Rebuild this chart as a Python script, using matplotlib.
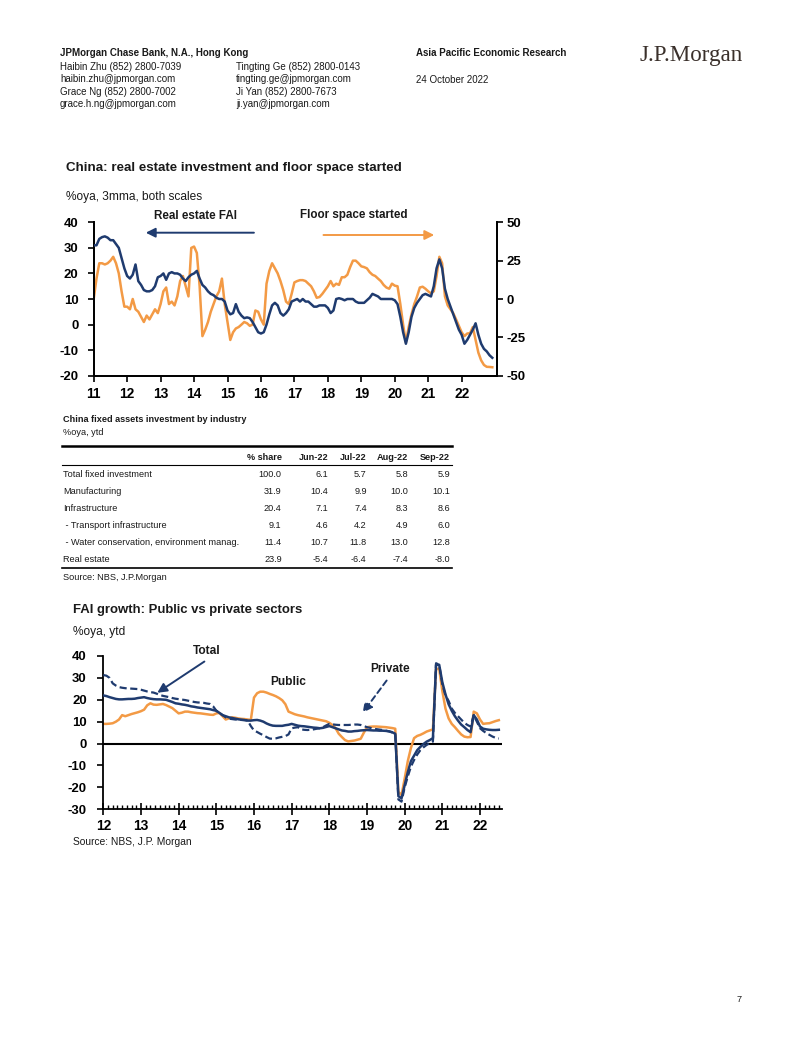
import matplotlib
matplotlib.use("Agg")
import matplotlib.pyplot as plt
from matplotlib import font_manager as fm
from matplotlib.ticker import MultipleLocator
import numpy as np

# ---------------- data ----------------
# Chart 1: monthly, from Jan 2011 (3mma, %oya)
fai_real_estate = [31,31,33.5,34.2,34.5,34,33,33,31.5,30,26,22,
    19,18,19.5,23.5,17,15.5,13.5,13,13,13.5,15,18.5,
    19,20,17.5,20,20.5,20,20,19.5,18,17,18.5,19.5,
    20,21,18,15.5,14.5,13,12,11.5,10.5,10,10,9,
    5.5,4,4.5,8,5,3.5,2.5,2.8,2.5,1,-1,-3,
    -3.5,-3,0,4,7.5,8.5,7.5,4.5,3.5,4.5,6,9,
    9.5,10,9,10,9,9,8,7,7,7.5,7.5,7.5,
    6.5,4.5,5.5,10,10.3,10,9.5,10,10,10,9,8.5,
    8.5,8.5,9.5,10.5,12,11.5,11,10,10,10,10,10,
    9.5,8,3,-3,-7.5,-3,3,6.5,8.5,10,11.5,12,
    11.5,11,15,22,25.5,22,14,10,7,4,1,-2,
    -4,-7.5,-6,-4,-2,0.5,-4,-7.5,-9.5,-10.5,-12,-13]
floor_space_started = [0,13.3,23.3,23.3,22.5,23.3,25,27.5,23.3,16.7,5,-5,
    -5,-6.7,0,-6.7,-8.3,-11.7,-15,-10.8,-13.3,-10,-6.7,-9.2,
    -3.3,5,7.5,-3.3,-1.7,-4.2,1.7,11.7,15,8.3,1.7,33.3,
    34.2,30,8.3,-24.2,-20,-15,-8.3,-3.3,1.7,5,13.3,-3.3,
    -15,-26.7,-21.7,-19.2,-18.3,-16.7,-15,-15.8,-17.5,-16.7,-7.5,-8.3,
    -13.3,-16.7,10,18.3,23.3,20,16.7,11.7,5.8,-1.7,-3.3,3.3,
    10.8,11.7,12.3,12.3,11.7,10,8.3,5,0.8,1.3,3.3,5.8,
    8.3,11.7,8.3,10,9.2,14.2,14.2,15.8,20.8,25,25,23.3,
    21.3,20.8,20,17.5,15.8,15,13.3,11.7,9.2,7.5,6.7,10,
    8.7,8.3,-3.3,-16.7,-28.3,-18.3,-10,-3.3,1.7,7.5,8,6.7,
    5,3.7,5,15,27.5,23.3,1.7,-4.2,-6.7,-9.3,-13.3,-17.5,
    -21.7,-24.2,-22.5,-22.3,-18.3,-26.7,-35,-40,-43,-44.2,-44.3,-44.5]
chart1_start_year = 2011
chart1_years = list(range(2011, 2023))
chart1_left_ticks = [40, 30, 20, 10, 0, -10, -20]
chart1_right_ticks = [50, 25, 0, -25, -50]

# Table
table_columns = ["% share", "Jun-22", "Jul-22", "Aug-22", "Sep-22"]
table_rows = ["Total fixed investment", "Manufacturing", "Infrastructure",
              " - Transport infrastructure",
              " - Water conservation, environment manag.", "Real estate"]
table_values = [
    ["100.0", "6.1", "5.7", "5.8", "5.9"],
    ["31.9", "10.4", "9.9", "10.0", "10.1"],
    ["20.4", "7.1", "7.4", "8.3", "8.6"],
    ["9.1", "4.6", "4.2", "4.9", "6.0"],
    ["11.4", "10.7", "11.8", "13.0", "12.8"],
    ["23.9", "-5.4", "-6.4", "-7.4", "-8.0"],
]

# Chart 2: monthly from Jan 2012 (%oya, ytd)
fai_total = [22,21.7,21.2,20.8,20.4,20.2,20.2,20.3,20.4,20.4,20.5,20.8,
    21,21.2,20.8,20.5,20.3,20.2,20.2,20.1,20,19.5,19,18.4,
    18.2,17.9,17.7,17.4,17,16.8,16.5,16.3,16.1,15.9,15.7,15.3,
    15,14,13,12.5,12,11.7,11.4,11.1,10.9,10.7,10.5,10.5,
    10.7,10.8,10.5,10,9.2,8.6,8.2,8.1,8.1,8.1,8.4,8.6,
    9,8.6,8.2,8,7.9,7.7,7.5,7.3,7.2,7,7.2,7.6,
    8,7.5,7,6.5,6,5.8,5.5,5.5,5.7,5.8,6,6.1,
    6.2,6.1,6,6,5.9,5.9,5.8,5.6,5.2,4.5,-24,-25,
    -19,-13,-8,-5.5,-3,-1.5,-0.2,0.9,1.6,2.5,36,36,
    28,22.5,18,15,12.5,10.5,8.7,7.5,6.2,5.2,13,11,
    7.8,6.8,6.5,6.3,6.2,6.2,6.3]
fai_private = [31.3,31,30,27.5,26.5,25.8,25.5,25.3,25.2,25.1,25,24.9,
    24.6,24.2,23.8,23.5,23.3,22.8,22.2,21.8,21.5,21.2,20.8,20.5,
    20.3,20.1,19.9,19.6,19.3,19,18.8,18.7,18.6,18.3,18.1,17,
    15,14,13,12,11.4,11.2,11,10.9,10.8,10.8,10.5,8,
    6,5.3,4.5,3.8,3,2.3,2.2,2.4,2.8,3.1,3.4,4.2,
    7,7.3,7.5,6.5,6.3,6.2,6.3,6.5,6.8,7,7.5,8.3,
    9,8.8,8.6,8.5,8.5,8.5,8.5,8.6,8.7,8.7,8.5,8,
    7.5,7.2,6.8,6.6,6.4,6.2,5.9,5.6,5.1,4.4,-25.5,-26.5,
    -20,-15,-10.5,-7.5,-5,-3,-1.7,-0.6,0.2,0.9,36.7,36,
    27,22,19.5,16,14,12.5,11,9.5,8.5,7.8,13,10,
    7,5.8,4.8,4,3.2,2.6,2.3]
fai_public = [9,9,9.1,9.3,10,11,13,12.5,13,13.5,13.9,14.3,
    14.8,15.5,17.5,18.4,17.8,17.7,17.9,18.1,17.6,16.9,16.2,15,
    13.8,14.1,14.6,14.6,14.3,14.1,13.9,13.8,13.6,13.4,13.2,13.1,
    13.8,14,12.5,11,11.5,12,11.8,11.5,11.3,11.2,11,10.8,
    21,23,23.7,23.7,23.3,22.7,22.2,21.6,20.8,19.8,18,14.6,
    14,13.4,13,12.7,12.4,12,11.7,11.4,11.1,10.8,10.5,10.2,
    9.5,8.5,7,4.5,3,1.6,1,1.2,1.4,1.8,2.2,5,
    7.5,7.7,7.8,7.8,7.7,7.6,7.5,7.3,7.1,6.8,-22,-23.5,
    -16,-8,-2,2.5,3.5,4,4.7,5.5,6,6.5,34,34.2,
    24,16,11.5,9,7.5,5.8,4.2,3.2,2.9,3,14.6,13.8,
    11,9,9.2,9.3,9.8,10.3,10.7]
chart2_start_year = 2012
chart2_years = list(range(2012, 2023))
chart2_yticks = [40, 30, 20, 10, 0, -10, -20, -30]

# ---------------- style ----------------
NAVY = "#1f3b6f"
ORANGE = "#f39a45"
TEXT = "#1a1a1a"
LOGO = "#3a302b"

avail = {f.name for f in fm.fontManager.ttflist}
if "Liberation Sans Narrow" in avail:
    SANS = ["Liberation Sans Narrow", "Liberation Sans", "DejaVu Sans"]
    K = 1.0
else:
    SANS = ["Liberation Sans", "DejaVu Sans"]
    K = 0.86
plt.rcParams["font.family"] = SANS
plt.rcParams["axes.unicode_minus"] = False

W, H = 802, 1037
fig = plt.figure(figsize=(W / 100, H / 100), dpi=100)
fig.patch.set_facecolor("white")

def fx(x):
    return x / W

def fy(y):
    return 1 - y / H

def txt(x, y, s, size, bold=False, ha="left", color=TEXT, **kw):
    fig.text(fx(x), fy(y), s, fontsize=size * K, fontweight="bold" if bold else "normal",
             ha=ha, va="center", color=color, **kw)

# ---------------- header ----------------
txt(60, 53, "JPMorgan Chase Bank, N.A., Hong Kong", 8.2, bold=True)
txt(60, 67, "Haibin Zhu (852) 2800-7039", 8.2)
txt(60, 79, "haibin.zhu@jpmorgan.com", 8.2)
txt(60, 92, "Grace Ng (852) 2800-7002", 8.2)
txt(60, 104, "grace.h.ng@jpmorgan.com", 8.2)
txt(236, 67, "Tingting Ge (852) 2800-0143", 8.2)
txt(236, 79, "tingting.ge@jpmorgan.com", 8.2)
txt(236, 92, "Ji Yan (852) 2800-7673", 8.2)
txt(236, 104, "ji.yan@jpmorgan.com", 8.2)
txt(416, 53, "Asia Pacific Economic Research", 8.2, bold=True)
txt(416, 80, "24 October 2022", 8.2)
fig.text(fx(640), fy(55), "J.P.Morgan", fontsize=16.6, family=["Liberation Serif", "DejaVu Serif"],
         color=LOGO, ha="left", va="center")

# ---------------- chart 1 ----------------
txt(66, 168, "China: real estate investment and floor space started", 11.2, bold=True)
txt(66, 197, "%oya, 3mma, both scales", 10)

L1, R1, T1, B1 = 93.7, 497, 222.3, 375.7
ax1 = fig.add_axes([fx(L1), fy(B1), (R1 - L1) / W, (B1 - T1) / H])
x1 = chart1_start_year + np.arange(len(fai_real_estate)) / 12.0
ax1.plot(x1, fai_real_estate, color=NAVY, lw=1.8, zorder=3)
ax1.set_ylim(-20, 40)
ax1.set_xlim(2011, 2011 + (R1 - L1) / 33.45)
ax1.set_yticks(chart1_left_ticks)
ax1.set_xticks(chart1_years)
ax1.set_xticklabels([str(y)[-2:] for y in chart1_years])
ax1b = ax1.twinx()
ax1b.plot(x1, floor_space_started, color=ORANGE, lw=1.8, zorder=2)
ax1b.set_ylim(-50, 50)
ax1b.set_yticks(chart1_right_ticks)
ax1.set_zorder(ax1b.get_zorder() + 1)
ax1.patch.set_visible(False)
for a in (ax1, ax1b):
    a.spines["top"].set_visible(False)
    for s in a.spines.values():
        s.set_linewidth(1.3)
        s.set_color("black")
ax1.tick_params(axis="y", direction="out", length=4, width=1.2, pad=7, labelsize=11 * K)
ax1.tick_params(axis="x", direction="out", length=4, width=1.2, pad=4, labelsize=11.5 * K)
ax1b.tick_params(axis="y", direction="out", length=4, width=1.2, pad=3, labelsize=11 * K)
for lab in ax1.get_xticklabels() + ax1.get_yticklabels() + ax1b.get_yticklabels():
    lab.set_fontweight("bold")

txt(196, 216, "Real estate FAI", 9.7, bold=True, ha="center")
txt(354, 215, "Floor space started", 9.7, bold=True, ha="center")
fig.patches.append(matplotlib.patches.FancyArrowPatch(
    (fx(256.7), fy(232.7)), (fx(143), fy(232.7)), transform=fig.transFigure,
    arrowstyle="-|>", mutation_scale=14, lw=1.4, color=NAVY))
fig.patches.append(matplotlib.patches.FancyArrowPatch(
    (fx(320.7), fy(235)), (fx(437), fy(235)), transform=fig.transFigure,
    arrowstyle="-|>", mutation_scale=14, lw=1.4, color=ORANGE))

# ---------------- table ----------------
txt(63, 420, "China fixed assets investment by industry", 7.6, bold=True)
txt(63, 432.5, "%oya, ytd", 7.6)
fig.add_artist(matplotlib.lines.Line2D([fx(61.5), fx(452)], [fy(446), fy(446)], color="black", lw=1.8))
fig.add_artist(matplotlib.lines.Line2D([fx(61.5), fx(452)], [fy(465), fy(465)], color="black", lw=0.8))
fig.add_artist(matplotlib.lines.Line2D([fx(61.5), fx(452)], [fy(567.7), fy(567.7)], color="black", lw=1.2))
col_x = [281.7, 328.3, 366.7, 408.3, 450]
for cx, c in zip(col_x, table_columns):
    txt(cx, 457.3, c, 7.6, bold=True, ha="right")
row_y = [474.3, 491.3, 508.3, 525, 542.3, 559.3]
for ry, name, vals in zip(row_y, table_rows, table_values):
    txt(63, ry, name, 7.6)
    for cx, v in zip(col_x, vals):
        txt(cx, ry, v, 7.6, ha="right")
txt(63, 577.7, "Source: NBS, J.P.Morgan", 7.6)

# ---------------- chart 2 ----------------
txt(73, 610, "FAI growth: Public vs private sectors", 11, bold=True)
txt(73, 631.7, "%oya, ytd", 10)

L2, R2, T2, B2 = 103.3, 501.7, 656, 809.3
ax2 = fig.add_axes([fx(L2), fy(B2), (R2 - L2) / W, (B2 - T2) / H])
x2 = chart2_start_year + np.arange(len(fai_total)) / 12.0
ax2.axhline(0, color="black", lw=1.5, zorder=1)
ax2.plot(x2, fai_public, color=ORANGE, lw=1.8, zorder=2)
ax2.plot(x2, fai_private, color=NAVY, lw=1.6, ls=(0, (3.2, 1.6)), zorder=3)
ax2.plot(x2, fai_total, color=NAVY, lw=1.8, zorder=4)
ax2.set_ylim(-30, 40)
ax2.set_xlim(2012, 2012 + (R2 - L2) / 37.67)
ax2.set_yticks(chart2_yticks)
ax2.set_xticks(chart2_years)
ax2.set_xticklabels([str(y)[-2:] for y in chart2_years])
ax2.xaxis.set_minor_locator(MultipleLocator(1 / 8))
for s in ("top", "right"):
    ax2.spines[s].set_visible(False)
for s in ("left", "bottom"):
    ax2.spines[s].set_linewidth(1.3)
ax2.tick_params(axis="y", direction="out", length=4, width=1.2, pad=8, labelsize=11 * K)
ax2.tick_params(axis="x", which="major", direction="inout", length=8, width=1.2, pad=3, labelsize=11.5 * K)
ax2.tick_params(axis="x", which="minor", direction="in", length=3, width=1.0)
for lab in ax2.get_xticklabels() + ax2.get_yticklabels():
    lab.set_fontweight("bold")

txt(206.7, 651, "Total", 10, bold=True, ha="center")
txt(288.3, 681.7, "Public", 10, bold=True, ha="center")
txt(390, 669, "Private", 10, bold=True, ha="center")
fig.patches.append(matplotlib.patches.FancyArrowPatch(
    (fx(206.7), fy(660)), (fx(155), fy(694.3)), transform=fig.transFigure,
    arrowstyle="-|>", mutation_scale=14, lw=1.4, color=NAVY))
fig.patches.append(matplotlib.patches.FancyArrowPatch(
    (fx(388.3), fy(678.3)), (fx(361), fy(715)), transform=fig.transFigure,
    arrowstyle="-|>", mutation_scale=14, lw=1.4, color=NAVY, linestyle=(0, (3, 2))))
txt(73.3, 841.7, "Source: NBS, J.P. Morgan", 8.6)

txt(737, 1000, "7", 7.6)

fig.savefig("out.png", dpi=100, facecolor="white")
